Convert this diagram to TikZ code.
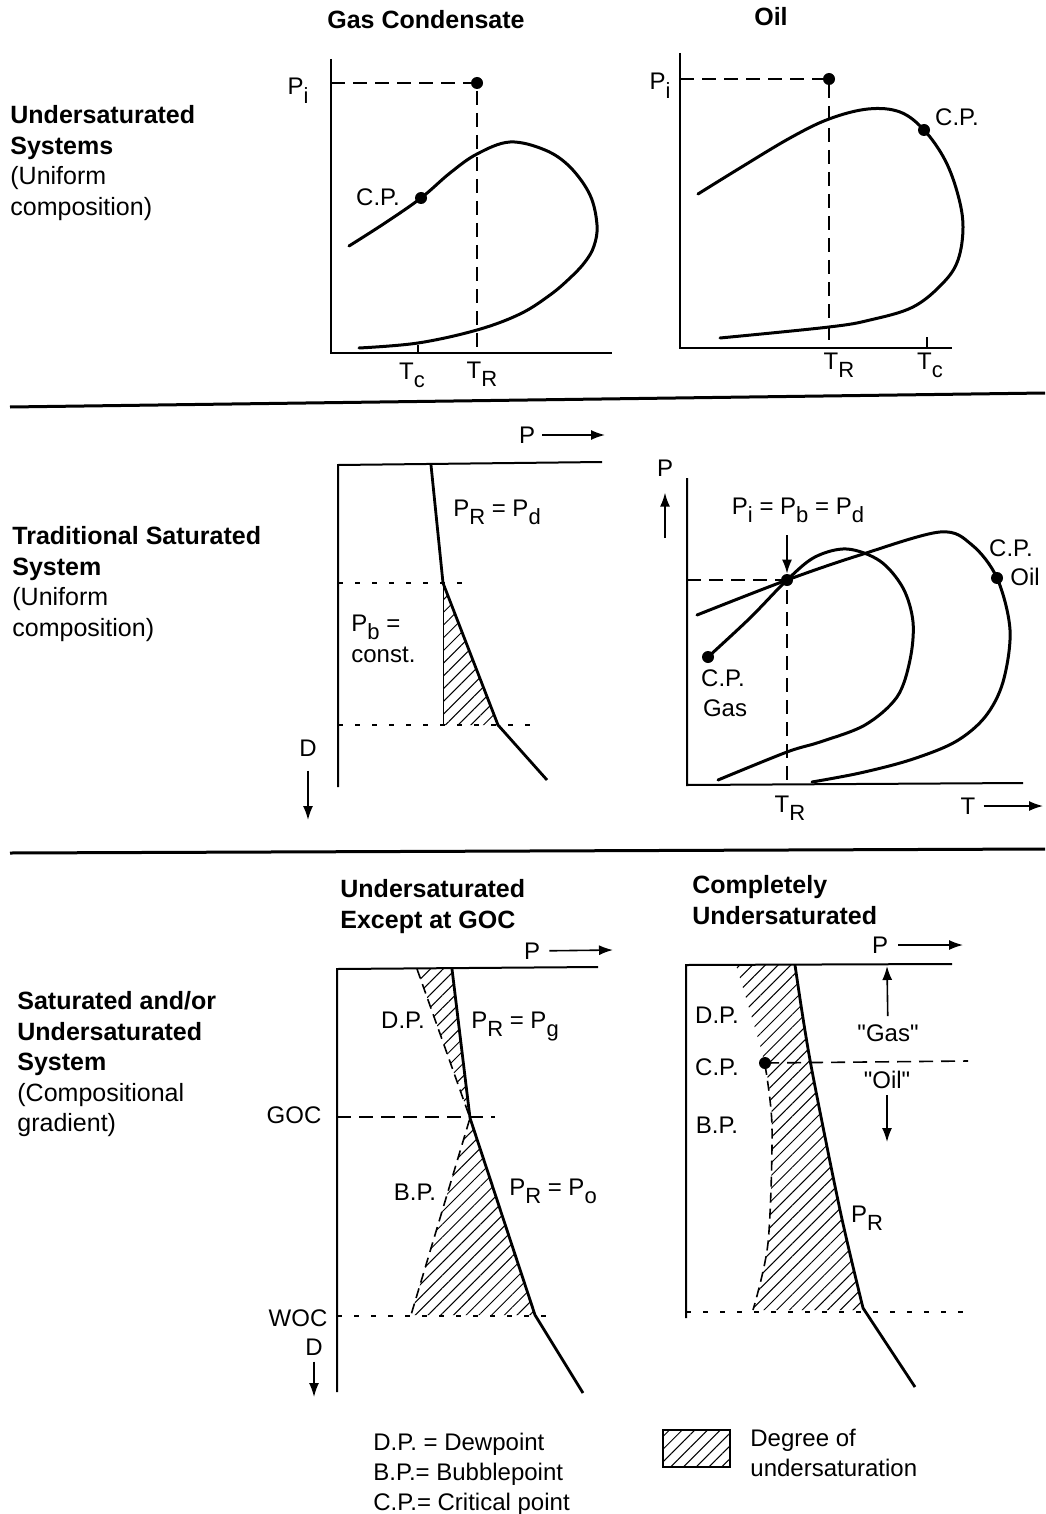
\documentclass[tikz,border=0pt]{standalone}
\usepackage{fontspec}
\setmainfont{Liberation Sans}
\usetikzlibrary{arrows.meta, patterns.meta}
\newcommand\lsub[1]{\raisebox{-0.7ex}{\fontsize{11}{11}\selectfont #1}}

\tikzset{
  axisline/.style={line width=1pt},
  envline/.style={line width=1.5pt, line join=round, line cap=round},
  gradline/.style={line width=1.4pt, line join=round},
  dashline/.style={line width=0.8pt, dash pattern=on 7pt off 4pt},
  bpline/.style={line width=0.8pt, dash pattern=on 5pt off 3pt},
  dotline/.style={line width=0.8pt, dash pattern=on 2.5pt off 6pt},
  sepline/.style={line width=1.5pt},
  hatch/.style={pattern={Lines[angle=45,distance=4.5pt,line width=0.5pt]}},
  cpdot/.style={circle, fill, inner sep=0pt, minimum size=6pt},
  lbl/.style={font=\fontsize{12}{14}\selectfont, inner sep=1pt},
  ttl/.style={font=\bfseries\fontsize{12.5}{15.25}\selectfont, align=left, inner sep=0pt},
  side/.style={font=\fontsize{12.5}{15.25}\selectfont, align=left, anchor=north west, inner sep=0pt},
  arr/.style={line width=0.8pt, -{Latex[length=7pt,width=5pt]}}
}

\begin{document}
\begin{tikzpicture}[x=0.5pt, y=-0.5pt]
    \useasboundingbox (0,0) rectangle (1045,1514);

    % row separators
    \draw[sepline] (10,407) -- (1045,393);
    \draw[sepline] (10,853) -- (1045,849);

    % row headings
    \node[side] (sysUnder) at (10,105)
        {\textbf{Undersaturated}\\\textbf{Systems}\\(Uniform\\composition)};
    \node[side] (sysTrad) at (12,526)
        {\textbf{Traditional Saturated}\\\textbf{System}\\(Uniform\\composition)};
    \node[side] (sysGrad) at (17,991)
        {\textbf{Saturated and/or}\\\textbf{Undersaturated}\\\textbf{System}\\(Compositional\\gradient)};

    % ---- gas condensate, P-T ----
    \node[ttl] (tGas) at (426,20) {Gas Condensate};
    \draw[axisline] (331,59) -- (331,353) -- (612,353);
    \draw[axisline] (418,345) -- (418,353);
    \node[cpdot] (piGas) at (477,83) {};
    \draw[dashline] (331,83) -- (piGas.center) -- (477,353);
    \draw[envline] plot[smooth, tension=0.6] coordinates {(349,246) (385,223) (421,198) (450,173)
        (477,154) (510,142) (545,150) (570,167) (590,195) (597,225) (594,246) (585,262)
        (570,278) (550,295) (520,314) (477,330) (418,343) (359,348)};
    \node[cpdot] (cpGas) at (421,198) {};
    \node[lbl] (lCpGas) at (378,197) {C.P.};
    \node[lbl, anchor=base] (lPiGas) at (298,95) {P\lsub{i}};
    \node[lbl, anchor=base] (lTcGas) at (412,379) {T\lsub{c}};
    \node[lbl, anchor=base] (lTrGas) at (482,378) {T\lsub{R}};

    % ---- oil, P-T ----
    \node[ttl] (tOil) at (771,17) {Oil};
    \draw[axisline] (680,53) -- (680,348) -- (952,348);
    \draw[axisline] (927,337) -- (927,348);
    \node[cpdot] (piOil) at (829,79) {};
    \draw[dashline] (680,79) -- (piOil.center) -- (829,348);
    \draw[envline] plot[smooth, tension=0.6] coordinates {(698,194) (740,168) (790,138) (829,119)
        (868,109) (900,112) (924,130) (945,160) (958,195) (963,227) (958,260) (943,283)
        (913,307) (870,320) (829,327) (720,338)};
    \node[cpdot] (cpOil) at (924,130) {};
    \node[lbl] (lCpOil) at (957,117) {C.P.};
    \node[lbl, anchor=base] (lPiOil) at (660,90) {P\lsub{i}};
    \node[lbl, anchor=base] (lTrOil) at (839,369) {T\lsub{R}};
    \node[lbl, anchor=base] (lTcOil) at (930,369) {T\lsub{c}};

    % ---- traditional saturated, depth ----
    \draw[axisline] (338,787) -- (338,465) -- (602,462);
    \node[lbl] (pTrad) at (527,435) {P};
    \coordinate (pTradEnd) at (605,435);
    \draw[arr, shorten <=2.5pt] (pTrad) -- (pTradEnd);
    \coordinate (prTop) at (431,465);
    \coordinate (prGoc) at (443,583);
    \coordinate (prWoc) at (498,725);
    \coordinate (prEnd) at (547,780);
    \fill[hatch] (prGoc) -- (prWoc) -- (443,725) -- cycle;
    \draw[line width=0.4pt] (prGoc) -- (443,725);
    \draw[dotline] (338,583) -- (470,583);
    \draw[dotline] (338,725) -- (532,725);
    \draw[gradline] (prTop) -- (prGoc) -- (prWoc) -- (prEnd);
    \node[lbl, anchor=base] (lPrPd) at (497,516) {P\lsub{R} = P\lsub{d}};
    \node[lbl, anchor=base west, inner sep=0pt] (lPb) at (351,631) {P\lsub{b} =};
    \node[lbl, anchor=base west, inner sep=0pt] (lConst) at (351,662) {const.};
    \node[lbl] (dTrad) at (308,748) {D};
    \coordinate (dTradEnd) at (308,820);
    \draw[arr, shorten <=6pt] (dTrad) -- (dTradEnd);

    % ---- traditional saturated, P-T ----
    \draw[axisline] (687,478) -- (687,785) -- (1023,783);
    \node[cpdot] (tri) at (787,580) {};
    \draw[dashline] (687,580) -- (tri.center) -- (787,785);
    \draw[envline] plot[smooth, tension=0.55] coordinates {(708,657) (750,618) (787,580) (815,557)
        (847,549) (880,561) (903,588) (913,622) (910,660) (897,697) (865,725) (820,742)
        (787,752) (718,780)};
    \draw[envline] plot[smooth, tension=0.55] coordinates {(697,615) (787,580) (860,555) (940,532)
        (972,545) (997,578) (1010,630) (1003,682) (985,717) (955,742) (910,760) (860,773)
        (812,782)};
    \node[cpdot] (cpG) at (708,657) {};
    \node[cpdot] (cpO) at (997,578) {};
    \node[lbl] (pAx) at (665,468) {P};
    \coordinate (pAxStart) at (665,538);
    \draw[arr, shorten >=7pt] (pAxStart) -- (pAx);
    \node[lbl, anchor=base] (lTrip) at (798,514) {P\lsub{i} = P\lsub{b} = P\lsub{d}};
    \draw[arr, shorten <=5pt] (tri |- lTrip.south) -- (tri);
    \node[lbl, anchor=base] (lTrTrad) at (790,812) {T\lsub{R}};
    \node[lbl] (tAx) at (968,806) {T};
    \coordinate (tAxEnd) at (1043,806);
    \draw[arr, shorten <=3pt] (tAx) -- (tAxEnd);
    \node[lbl] (lCpO) at (1011,548) {C.P.};
    \node[lbl] (lOilO) at (1025,577) {Oil};
    \node[lbl] (lCpG) at (723,678) {C.P.};
    \node[lbl] (lGasG) at (725,708) {Gas};

    % ---- undersaturated except at GOC ----
    \node[ttl, anchor=north west] (tExc) at (340,879) {Undersaturated\\Except at GOC};
    \draw[axisline] (337,1392) -- (337,969) -- (598,967);
    \node[lbl] (pExc) at (532,951) {P};
    \coordinate (pExcEnd) at (613,950);
    \draw[arr, shorten <=3.5pt] (pExc) -- (pExcEnd);
    \coordinate (gTop) at (452,969);
    \coordinate (gDp) at (417,969);
    \coordinate (gGoc) at (470,1118);
    \coordinate (gWoc) at (535,1315);
    \coordinate (gBp) at (411,1315);
    \coordinate (gEnd) at (583,1393);
    \fill[hatch] (gDp) -- (gTop) -- (gGoc) -- cycle;
    \fill[hatch] (gGoc) -- (gWoc) -- (gBp) -- cycle;
    \draw[bpline] (gDp) -- (gGoc) -- (gBp);
    \draw[dashline] (337,1117) -- (495,1117);
    \draw[dotline] (337,1316) -- (552,1316);
    \draw[gradline] (gTop) -- (gGoc) -- (gWoc) -- (gEnd);
    \node[lbl] (lDpExc) at (403,1020) {D.P.};
    \node[lbl, anchor=base] (lPrPg) at (515,1028) {P\lsub{R} = P\lsub{g}};
    \node[lbl] (lGoc) at (294,1115) {GOC};
    \node[lbl] (lBpExc) at (415,1192) {B.P.};
    \node[lbl, anchor=base] (lPrPo) at (553,1195) {P\lsub{R} = P\lsub{o}};
    \node[lbl] (lWoc) at (298,1318) {WOC};
    \node[lbl] (dExc) at (314,1347) {D};
    \coordinate (dExcEnd) at (314,1397);
    \draw[arr, shorten <=2pt] (dExc) -- (dExcEnd);

    % ---- completely undersaturated ----
    \node[ttl, anchor=north west] (tComp) at (692,875) {Completely\\Undersaturated};
    \draw[axisline] (686,1318) -- (686,965) -- (952,964);
    \node[lbl] (pComp) at (880,945) {P};
    \coordinate (pCompEnd) at (963,945);
    \draw[arr, shorten <=4pt] (pComp) -- (pCompEnd);
    \fill[hatch] plot[smooth] coordinates {(736,965) (765,1065) (772,1127) (768,1243) (753,1310)}
        -- plot[smooth] coordinates {(863,1310) (840,1210) (810,1060) (795,965)} -- cycle;
    \draw[bpline] plot[smooth] coordinates {(765,1065) (772,1127) (768,1243) (753,1310)};
    \draw[gradline] plot[smooth] coordinates {(795,965) (810,1060) (840,1210) (863,1308)}
        -- (915,1387);
    \node[cpdot] (cpComp) at (765,1063) {};
    \draw[dashline] (cpComp.center) -- (968,1061);
    \draw[dotline] (686,1312) -- (965,1312);
    \node[lbl] (lDpComp) at (717,1015) {D.P.};
    \node[lbl] (lCpComp) at (717,1067) {C.P.};
    \node[lbl] (lBpComp) at (717,1125) {B.P.};
    \node[lbl, anchor=base] (lPrComp) at (867,1222) {P\lsub{R}};
    \node[lbl] (lGasZone) at (888,1033) {\textquotedbl Gas\textquotedbl};
    \coordinate (gasZoneEnd) at (887,966);
    \draw[arr, shorten <=3pt] (lGasZone) -- (gasZoneEnd);
    \node[lbl] (lOilZone) at (887,1080) {\textquotedbl Oil\textquotedbl};
    \coordinate (oilZoneEnd) at (887,1142);
    \draw[arr, shorten <=2pt] (lOilZone) -- (oilZoneEnd);

    % ---- legend ----
    \node[side, font=\fontsize{12}{15}\selectfont] (keyAbbr) at (373,1433)
        {D.P. = Dewpoint\\B.P.= Bubblepoint\\C.P.= Critical point};
    \draw[line width=1pt, hatch] (663,1430) rectangle (730,1467);
    \node[side, font=\fontsize{12}{15}\selectfont] (keyHatch) at (750,1429)
        {Degree of\\undersaturation};
\end{tikzpicture}
\end{document}
